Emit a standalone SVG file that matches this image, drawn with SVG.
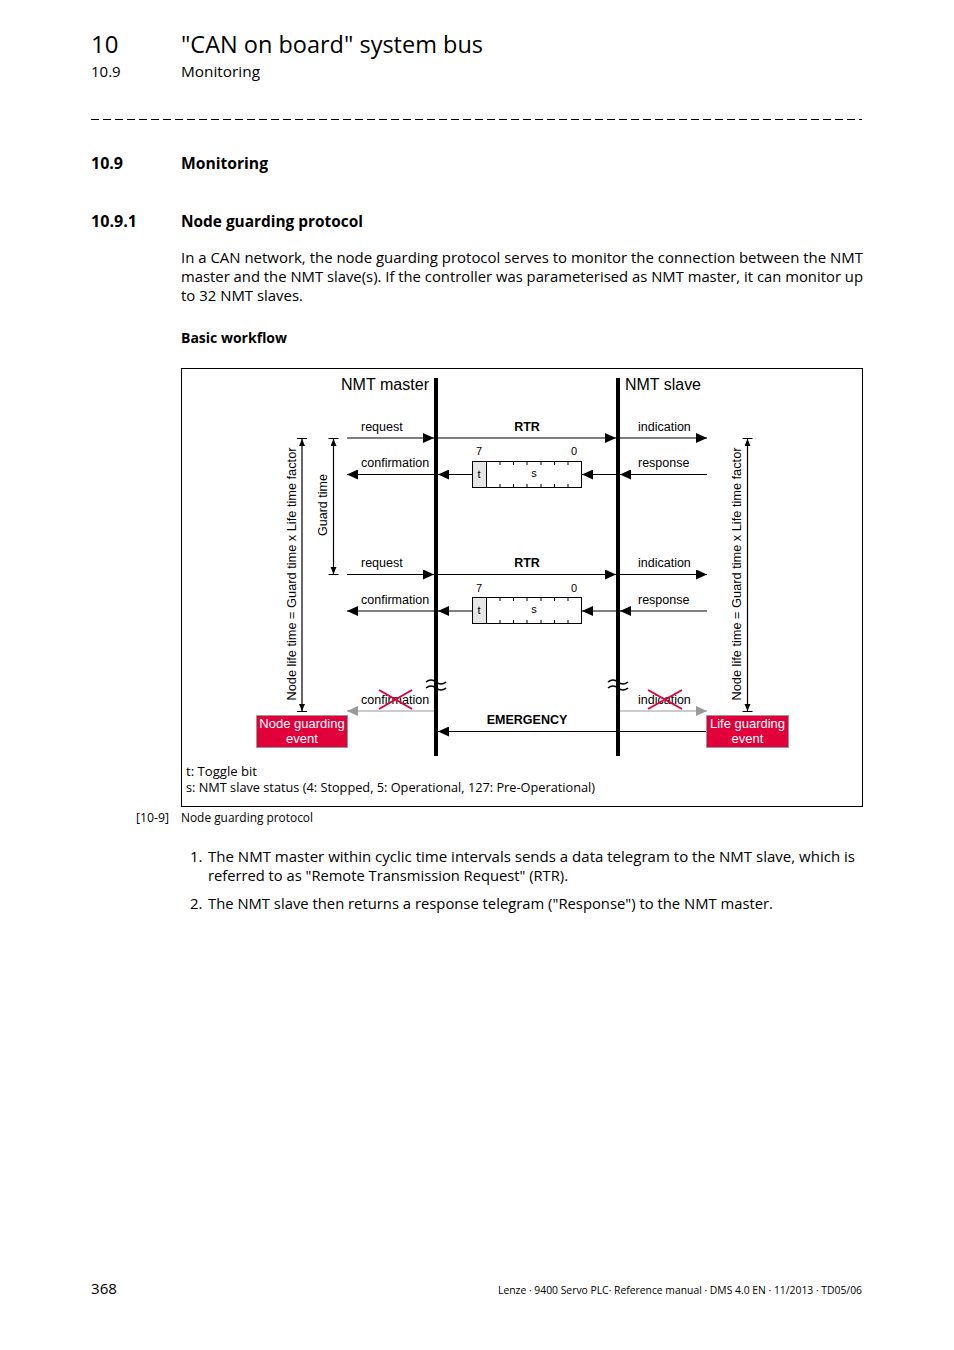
<svg xmlns="http://www.w3.org/2000/svg" width="954" height="1350" viewBox="0 0 954 1350">
<style>
.pg{font-family:"Open Sans","Noto Sans",sans-serif;fill:#000}
.b{font-weight:bold}
.d{font-family:"Liberation Sans",Arial,sans-serif;fill:#000}
.ln{stroke:#000;stroke-width:1.2;fill:none}
.gl{stroke:#999;stroke-width:1.2;fill:none}
.bus{stroke:#000;stroke-width:4;fill:none}
.brk{stroke:#000;stroke-width:1.6;fill:none}
.x{stroke:#e2003b;stroke-width:2;fill:none}
.ev{fill:#e2003b;stroke:#999;stroke-width:1}
.evt{font-family:"Liberation Sans",Arial,sans-serif;fill:#fff;font-size:13px;text-anchor:middle}
</style>
<defs>
<marker id="ah" markerUnits="userSpaceOnUse" markerWidth="12" markerHeight="10" refX="11" refY="5" orient="auto"><path d="M0,0 L11,5 L0,10 Z" fill="#000"/></marker>
<marker id="ahg" markerUnits="userSpaceOnUse" markerWidth="12" markerHeight="10" refX="11" refY="5" orient="auto"><path d="M0,0 L11,5 L0,10 Z" fill="#999"/></marker>
<marker id="sa" markerUnits="userSpaceOnUse" markerWidth="8" markerHeight="8" refX="7" refY="3" orient="auto"><path d="M0,0 L7,3 L0,6 Z" fill="#000"/></marker>
</defs>
<rect width="954" height="1350" fill="#fff"/>

<!-- page header -->
<g id="header">
<text class="pg" x="91" y="53" font-size="24">10</text>
<text class="pg" x="181" y="53" font-size="24" textLength="302" lengthAdjust="spacingAndGlyphs">"CAN on board" system bus</text>
<text class="pg" x="91" y="77" font-size="15">10.9</text>
<text class="pg" x="181" y="77" font-size="15" textLength="79" lengthAdjust="spacingAndGlyphs">Monitoring</text>
<line x1="91" y1="119.5" x2="862" y2="119.5" stroke="#000" stroke-width="1" stroke-dasharray="8,4"/>
<text class="pg b" x="91" y="169" font-size="16">10.9</text>
<text class="pg b" x="181" y="169" font-size="16" textLength="87" lengthAdjust="spacingAndGlyphs">Monitoring</text>
<text class="pg b" x="91" y="227" font-size="16" textLength="46" lengthAdjust="spacingAndGlyphs">10.9.1</text>
<text class="pg b" x="181" y="227" font-size="16" textLength="182" lengthAdjust="spacingAndGlyphs">Node guarding protocol</text>
<text class="pg" x="181" y="263" font-size="15" textLength="682" lengthAdjust="spacingAndGlyphs">In a CAN network, the node guarding protocol serves to monitor the connection between the NMT</text>
<text class="pg" x="181" y="282" font-size="15" textLength="682" lengthAdjust="spacingAndGlyphs">master and the NMT slave(s). If the controller was parameterised as NMT master, it can monitor up</text>
<text class="pg" x="181" y="301" font-size="15" textLength="122" lengthAdjust="spacingAndGlyphs">to 32 NMT slaves.</text>
<text class="pg b" x="181" y="343" font-size="15" textLength="106" lengthAdjust="spacingAndGlyphs">Basic workflow</text>
</g>

<!-- diagram frame -->
<rect x="181.5" y="368.5" width="681" height="438" fill="none" stroke="#000" stroke-width="1"/>

<g id="nmt_master">
<text class="d" x="341" y="390" font-size="16" textLength="88" lengthAdjust="spacingAndGlyphs">NMT master</text>
<line class="bus" x1="436" y1="378" x2="436" y2="756"/>
<path class="brk" d="M426,682 q5,-4 10,0 t10,0 M426,688 q5,-4 10,0 t10,0"/>
</g>
<g id="nmt_slave">
<text class="d" x="625" y="390" font-size="16" textLength="76" lengthAdjust="spacingAndGlyphs">NMT slave</text>
<line class="bus" x1="618" y1="378" x2="618" y2="756"/>
<path class="brk" d="M608,682 q5,-4 10,0 t10,0 M608,688 q5,-4 10,0 t10,0"/>
</g>

<g id="frame1">
<text class="d" x="479" y="455" font-size="11" text-anchor="middle">7</text>
<text class="d" x="574" y="455" font-size="11" text-anchor="middle">0</text>
<rect x="472.5" y="461.5" width="14" height="26" fill="#e6e6e6" stroke="#000" stroke-width="1"/>
<rect x="486.5" y="461.5" width="95" height="26" fill="#fff" stroke="#000" stroke-width="1"/>
<path d="M500,461 v4 M513.5,461 v4 M527,461 v4 M541,461 v4 M554.5,461 v4 M568,461 v4 M500,488 v-4 M513.5,488 v-4 M527,488 v-4 M541,488 v-4 M554.5,488 v-4 M568,488 v-4" stroke="#000" stroke-width="1"/>
<text class="d" x="479" y="478" font-size="11" text-anchor="middle">t</text>
<text class="d" x="534" y="477" font-size="11" text-anchor="middle">s</text>
</g>
<g id="frame2">
<text class="d" x="479" y="592" font-size="11" text-anchor="middle">7</text>
<text class="d" x="574" y="592" font-size="11" text-anchor="middle">0</text>
<rect x="472.5" y="597.5" width="14" height="26" fill="#e6e6e6" stroke="#000" stroke-width="1"/>
<rect x="486.5" y="597.5" width="95" height="26" fill="#fff" stroke="#000" stroke-width="1"/>
<path d="M500,597 v4 M513.5,597 v4 M527,597 v4 M541,597 v4 M554.5,597 v4 M568,597 v4 M500,624 v-4 M513.5,624 v-4 M527,624 v-4 M541,624 v-4 M554.5,624 v-4 M568,624 v-4" stroke="#000" stroke-width="1"/>
<text class="d" x="479" y="614" font-size="11" text-anchor="middle">t</text>
<text class="d" x="534" y="613" font-size="11" text-anchor="middle">s</text>
</g>

<g id="node_guarding_event">
<rect class="ev" x="256.5" y="715.5" width="91" height="32"/>
<text class="evt" x="302" y="728">Node guarding</text>
<text class="evt" x="302" y="743">event</text>
</g>
<g id="life_guarding_event">
<rect class="ev" x="706.5" y="715.5" width="82" height="32"/>
<text class="evt" x="747.5" y="728">Life guarding</text>
<text class="evt" x="747.5" y="743">event</text>
</g>

<g id="connectors">
<!-- cycle 1 -->
<line class="ln" x1="347" y1="438" x2="434" y2="438" marker-end="url(#ah)"/>
<line class="ln" x1="438" y1="438" x2="616" y2="438" marker-end="url(#ah)"/>
<line class="ln" x1="620" y1="438" x2="707" y2="438" marker-end="url(#ah)"/>
<line class="ln" x1="707" y1="474.5" x2="620" y2="474.5" marker-end="url(#ah)"/>
<line class="ln" x1="616" y1="474.5" x2="582" y2="474.5" marker-end="url(#ah)"/>
<line class="ln" x1="472" y1="474.5" x2="438" y2="474.5" marker-end="url(#ah)"/>
<line class="ln" x1="434" y1="474.5" x2="347" y2="474.5" marker-end="url(#ah)"/>
<!-- cycle 2 -->
<line class="ln" x1="347" y1="574.5" x2="434" y2="574.5" marker-end="url(#ah)"/>
<line class="ln" x1="438" y1="574.5" x2="616" y2="574.5" marker-end="url(#ah)"/>
<line class="ln" x1="620" y1="574.5" x2="707" y2="574.5" marker-end="url(#ah)"/>
<line class="ln" x1="707" y1="611" x2="620" y2="611" marker-end="url(#ah)"/>
<line class="ln" x1="616" y1="611" x2="582" y2="611" marker-end="url(#ah)"/>
<line class="ln" x1="472" y1="611" x2="438" y2="611" marker-end="url(#ah)"/>
<line class="ln" x1="434" y1="611" x2="347" y2="611" marker-end="url(#ah)"/>
<!-- failed -->
<line class="gl" x1="434" y1="711" x2="347" y2="711" marker-end="url(#ahg)"/>
<line class="gl" x1="620" y1="711" x2="707" y2="711" marker-end="url(#ahg)"/>
<line class="ln" x1="706" y1="731.5" x2="438" y2="731.5" marker-end="url(#ah)"/>

<!-- labels -->
<g class="d" font-size="12.5">
<text x="361" y="431">request</text>
<text x="361" y="467">confirmation</text>
<text x="638" y="431">indication</text>
<text x="638" y="467">response</text>
<text x="361" y="567">request</text>
<text x="361" y="604">confirmation</text>
<text x="638" y="567">indication</text>
<text x="638" y="604">response</text>
<text x="361" y="704">confirmation</text>
<text x="638" y="704">indication</text>
</g>
<text class="d b" x="527" y="431" font-size="12.5" text-anchor="middle">RTR</text>
<text class="d b" x="527" y="567" font-size="12.5" text-anchor="middle">RTR</text>
<text class="d b" x="527" y="724" font-size="12.5" text-anchor="middle">EMERGENCY</text>
<path class="x" d="M379,690 L412,709 M379,709 L412,690"/>
<path class="x" d="M648,690 L682,709 M648,709 L682,690"/>

<!-- dimension lines -->
<path d="M297,438.5 h10 M297,711.5 h10 M328.5,438.5 h10 M328.5,574.5 h10 M742.5,438.5 h10 M742.5,711.5 h10" stroke="#000" stroke-width="1"/>
<line class="ln" x1="302" y1="574" x2="302" y2="439" marker-end="url(#sa)"/>
<line class="ln" x1="302" y1="574" x2="302" y2="711" marker-end="url(#sa)"/>
<line class="ln" x1="333.5" y1="506" x2="333.5" y2="439" marker-end="url(#sa)"/>
<line class="ln" x1="333.5" y1="506" x2="333.5" y2="574" marker-end="url(#sa)"/>
<line class="ln" x1="747.5" y1="574" x2="747.5" y2="439" marker-end="url(#sa)"/>
<line class="ln" x1="747.5" y1="574" x2="747.5" y2="711" marker-end="url(#sa)"/>
<text class="d" transform="translate(296,574) rotate(-90)" font-size="12.5" text-anchor="middle" textLength="253" lengthAdjust="spacingAndGlyphs">Node life time = Guard time x Life time factor</text>
<text class="d" transform="translate(327,505) rotate(-90)" font-size="12.5" text-anchor="middle">Guard time</text>
<text class="d" transform="translate(741,574) rotate(-90)" font-size="12.5" text-anchor="middle" textLength="253" lengthAdjust="spacingAndGlyphs">Node life time = Guard time x Life time factor</text>
</g>

<g id="legend">
<text class="pg" x="186" y="776" font-size="12.5" textLength="71" lengthAdjust="spacingAndGlyphs">t: Toggle bit</text>
<text class="pg" x="186" y="792" font-size="12.5" textLength="409" lengthAdjust="spacingAndGlyphs">s: NMT slave status (4: Stopped, 5: Operational, 127: Pre-Operational)</text>
</g>

<g id="caption">
<text class="pg" x="136" y="822" font-size="12" textLength="33" lengthAdjust="spacingAndGlyphs">[10-9]</text>
<text class="pg" x="181" y="822" font-size="12" textLength="132" lengthAdjust="spacingAndGlyphs">Node guarding protocol</text>
</g>

<g id="steps">
<text class="pg" x="190" y="862" font-size="15">1.</text>
<text class="pg" x="208" y="862" font-size="15" textLength="647" lengthAdjust="spacingAndGlyphs">The NMT master within cyclic time intervals sends a data telegram to the NMT slave, which is</text>
<text class="pg" x="208" y="881" font-size="15" textLength="360" lengthAdjust="spacingAndGlyphs">referred to as "Remote Transmission Request" (RTR).</text>
<text class="pg" x="190" y="909" font-size="15">2.</text>
<text class="pg" x="208" y="909" font-size="15" textLength="565" lengthAdjust="spacingAndGlyphs">The NMT slave then returns a response telegram ("Response") to the NMT master.</text>
</g>

<g id="footer">
<text class="pg" x="91" y="1294" font-size="15" textLength="26" lengthAdjust="spacingAndGlyphs">368</text>
<text class="pg" x="862" y="1294" font-size="11" text-anchor="end" textLength="364" lengthAdjust="spacingAndGlyphs">Lenze · 9400 Servo PLC· Reference manual · DMS 4.0 EN · 11/2013 · TD05/06</text>
</g>
</svg>
